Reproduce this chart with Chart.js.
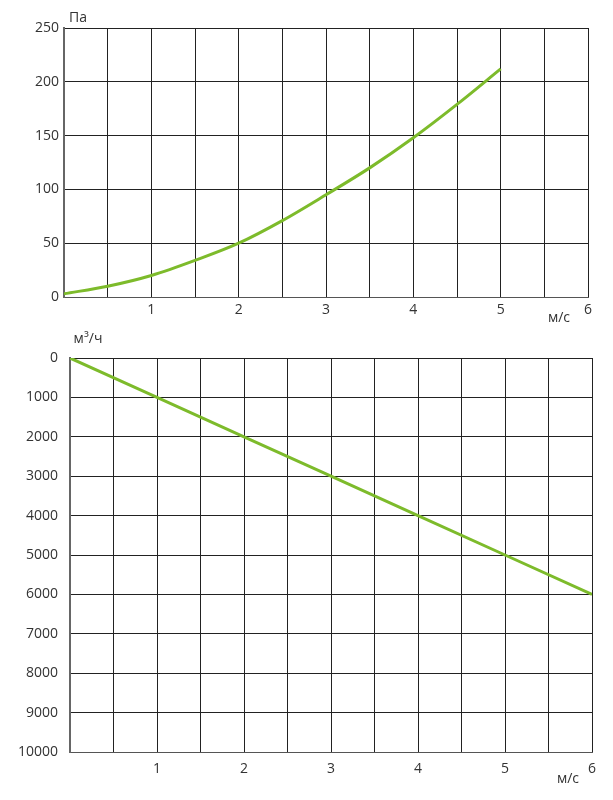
<!DOCTYPE html>
<html>
<head>
<meta charset="utf-8">
<script src="https://cdn.jsdelivr.net/npm/chart.js@4"></script>
<style>
  html, body { margin: 0; padding: 0; background: #fff; }
  #wrap { position: relative; width: 613px; height: 800px; }
  #c1 { position: absolute; left: 0; top: 0; }
  #c2 { position: absolute; left: 0; top: 325px; }
</style>
</head>
<body>
<div id="wrap">
  <canvas id="c1" width="613" height="325"></canvas>
  <canvas id="c2" width="613" height="475"></canvas>
</div>
<script>
// верхний график: потери давления от скорости
const speedTop = [0, 0.5, 1, 1.5, 2, 2.5, 3, 3.5, 4, 4.5, 5];
const pressure = [3, 10, 20, 34, 50, 71, 95, 120, 148, 179, 212];

// нижний график: расход воздуха от скорости
const speedBottom = [0, 1, 2, 3, 4, 5, 6];
const flow = [0, 1000, 2000, 3000, 4000, 5000, 6000];

const xTickLabels = ['1', '2', '3', '4', '5', '6'];

const FONT = { family: '"Open Sans", "Noto Sans", sans-serif', size: 14 };
const TEXT_COLOR = '#333';
const GRID_COLOR = '#222';
const LINE_COLOR = '#7dbb2b';

// подписи единиц измерения рисуем сами
function unitsPlugin(yUnit, yUnitX, yUnitY, xUnitX, xUnitY) {
    return {
        id: 'units',
        afterDraw(chart) {
            const ctx = chart.ctx;
            ctx.save();
            ctx.fillStyle = TEXT_COLOR;
            ctx.font = `${FONT.size}px ${FONT.family}`;
            ctx.textAlign = 'center';
            ctx.textBaseline = 'middle';
            ctx.fillText(yUnit, yUnitX, yUnitY);
            ctx.fillText('м/с', xUnitX, xUnitY);
            ctx.restore();
        }
    };
}

function xTickCallback(value) {
    const s = String(value);
    return xTickLabels.includes(s) ? s : '';
}

function makeChart(canvasId, xs, ys, cfg) {
    const ctx = document.getElementById(canvasId).getContext('2d');
    return new Chart(ctx, {
        type: 'line',
        data: {
            datasets: [{
                data: xs.map((x, i) => ({ x: x, y: ys[i] })),
                borderColor: LINE_COLOR,
                borderWidth: 3,
                pointRadius: 0,
                tension: cfg.tension,
                cubicInterpolationMode: cfg.tension ? 'monotone' : 'default',
                fill: false
            }]
        },
        options: {
            responsive: false,
            animation: false,
            layout: { padding: cfg.padding },
            plugins: { legend: { display: false }, tooltip: { enabled: false } },
            scales: {
                x: {
                    type: 'linear',
                    min: 0,
                    max: 6,
                    grid: { color: GRID_COLOR, lineWidth: 1, drawTicks: false },
                    border: { color: '#555', width: 1 },
                    ticks: {
                        stepSize: 0.5,
                        autoSkip: false,
                        maxRotation: 0,
                        padding: cfg.xPad,
                        color: TEXT_COLOR,
                        font: FONT,
                        callback: xTickCallback
                    },
                    afterFit: s => { s.height = cfg.xHeight; }
                },
                y: {
                    min: cfg.yMin,
                    max: cfg.yMax,
                    reverse: cfg.reverse,
                    grid: { color: GRID_COLOR, lineWidth: 1, drawTicks: false },
                    border: { color: '#666', width: 2 },
                    ticks: {
                        stepSize: cfg.yStep,
                        autoSkip: false,
                        padding: cfg.yPad,
                        color: TEXT_COLOR,
                        font: FONT,
                        callback: v => String(v)
                    },
                    afterFit: s => { s.width = cfg.yWidth; }
                }
            }
        },
        plugins: [cfg.units]
    });
}

makeChart('c1', speedTop, pressure, {
    tension: 0.4,
    padding: { left: 0, right: 25, top: 28, bottom: 0 },
    xHeight: 28, xPad: 5,
    yWidth: 64, yPad: 5,
    yMin: 0, yMax: 250, yStep: 50, reverse: false,
    units: unitsPlugin('Па', 78, 18, 559, 318)
});

makeChart('c2', speedBottom, flow, {
    tension: 0,
    padding: { left: 0, right: 21, top: 33, bottom: 0 },
    xHeight: 48, xPad: 9,
    yWidth: 70, yPad: 12,
    yMin: 0, yMax: 10000, yStep: 1000, reverse: true,
    units: unitsPlugin('м³/ч', 88, 14, 568, 454)
});
</script>
</body>
</html>
